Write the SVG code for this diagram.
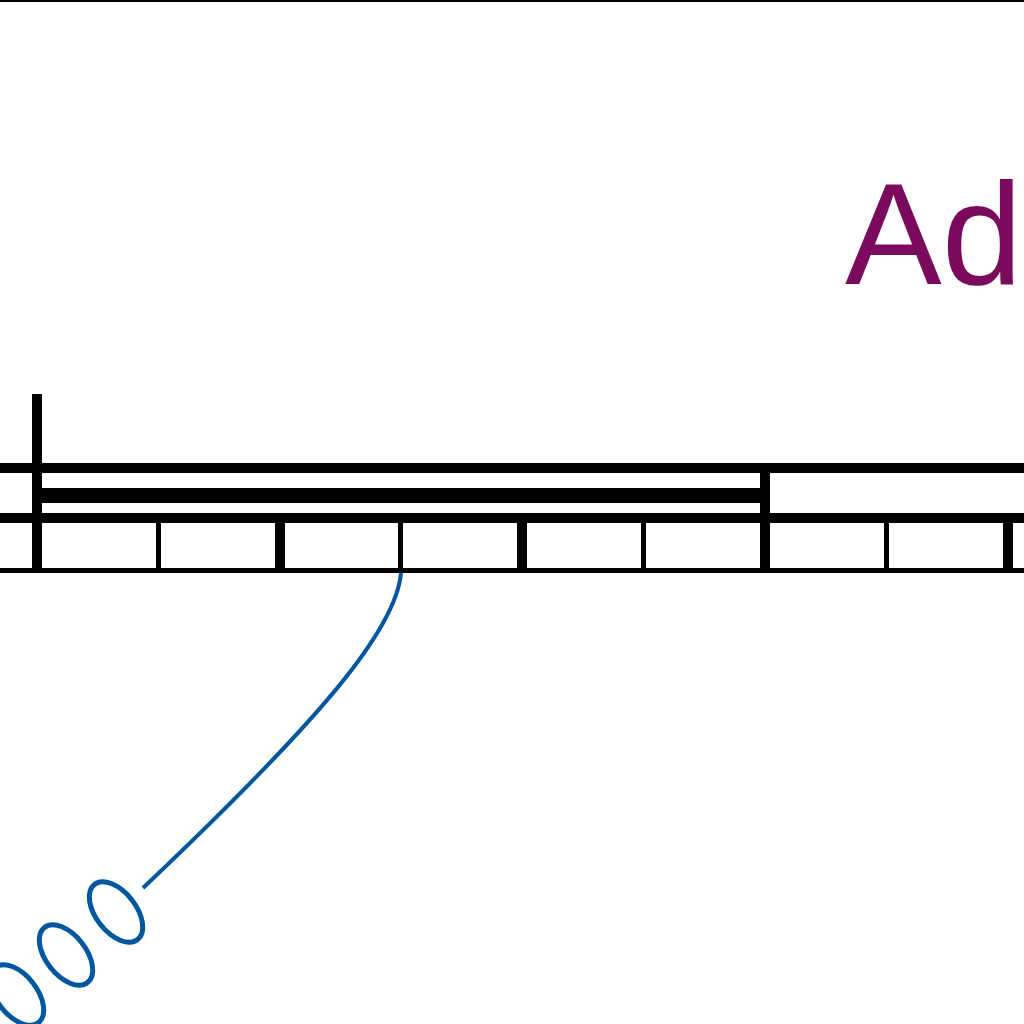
<svg xmlns="http://www.w3.org/2000/svg" width="1024" height="1024" viewBox="0 0 1024 1024">
<style>
.k{fill:#000}
.blue{fill:none;stroke:#0057A0;stroke-width:5}
.lbl{font-family:"Liberation Sans",Arial,sans-serif;font-size:145px;fill:#7A0A5B}
</style>
<rect width="1024" height="1024" fill="#fff"/>
<g id="frame">
<rect class="k" x="0" y="0" width="1024" height="2"/>
</g>
<g id="title">
<text class="lbl" x="845" y="284">Ad</text>
</g>
<g id="rail">
<rect class="k" x="0" y="463" width="1024" height="10"/>
<rect class="k" x="0" y="513" width="1024" height="10"/>
<rect class="k" x="0" y="568" width="1024" height="5"/>
<rect class="k" x="32" y="394" width="10" height="179"/>
<rect class="k" x="42" y="488" width="720" height="15"/>
<rect class="k" x="760" y="463" width="10" height="110"/>
<rect class="k" x="156" y="523" width="5" height="45"/>
<rect class="k" x="275" y="523" width="10" height="45"/>
<rect class="k" x="398" y="523" width="5" height="45"/>
<rect class="k" x="517" y="523" width="10" height="45"/>
<rect class="k" x="641" y="523" width="5" height="45"/>
<rect class="k" x="884" y="523" width="5" height="45"/>
<rect class="k" x="1003" y="523" width="10" height="45"/>
</g>
<g id="connectors">
<path class="blue" style="stroke-width:4" d="M401,573 C396,630 320,720 143,888"/>
</g>
<g id="chain">
<ellipse class="blue" cx="116" cy="912" rx="35" ry="20" transform="rotate(52 116 912)"/>
<ellipse class="blue" cx="66" cy="955" rx="35" ry="20" transform="rotate(52 66 955)"/>
<ellipse class="blue" cx="17" cy="995" rx="35" ry="20" transform="rotate(52 17 995)"/>
</g>
</svg>
